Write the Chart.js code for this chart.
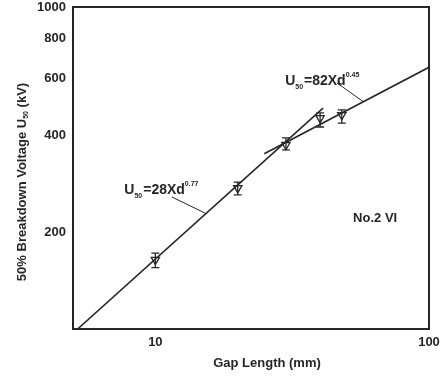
<!DOCTYPE html>
<html><head><meta charset="utf-8">
<script src="https://cdn.jsdelivr.net/npm/chart.js@4/dist/chart.umd.min.js"></script>
<style>html,body{margin:0;padding:0;background:#fff}#wrap{width:441px;height:378px;position:relative}</style>
</head><body><div id="wrap"><canvas id="c" width="441" height="378"></canvas></div>
<script>
// ---- data ----
const gapLength   = [10, 20, 30, 40, 48];
const voltageMean = [164, 274, 373, 452, 462];
const voltageLow  = [155, 261, 360, 424, 436];
const voltageHigh = [172, 286, 392, 469, 479];
const fit1X = [5.2, 41];   const fit1Y = [100, 485];   // U50 = 28 X d^0.77
const fit2X = [25, 100];   const fit2Y = [350, 650];   // U50 = 82 X d^0.45
const xTicks = [10, 100];
const yTicks = [200, 400, 600, 800, 1000];

const FONT = '"Liberation Sans", Arial, sans-serif';
const INK = '#262626';

function pts(xs, ys){ return xs.map((x,i)=>({x:x, y:ys[i]})); }

function drawRich(ctx, x, y, parts, size){
  let cx = x;
  for (const [t, kind] of parts){
    let s = size, dy = 0;
    if (kind === 'sub'){ s = size*0.5; dy = 4; }
    if (kind === 'sup'){ s = size*0.5; dy = -8; }
    ctx.font = 'bold ' + s + 'px ' + FONT;
    ctx.fillText(t, cx, y + dy);
    cx += ctx.measureText(t).width + (kind ? 1 : 0);
  }
}

const extras = {
  id: 'extras',
  beforeDatasetsDraw(chart){
    const ctx = chart.ctx, xs = chart.scales.x, ys = chart.scales.y;
    ctx.save();
    ctx.strokeStyle = INK; ctx.lineWidth = 1.3;
    gapLength.forEach((d,i)=>{
      const px = xs.getPixelForValue(d);
      const yl = ys.getPixelForValue(voltageLow[i]);
      const yh = ys.getPixelForValue(voltageHigh[i]);
      ctx.beginPath();
      ctx.moveTo(px, yl); ctx.lineTo(px, yh);
      ctx.moveTo(px-4, yl); ctx.lineTo(px+4, yl);
      ctx.moveTo(px-4, yh); ctx.lineTo(px+4, yh);
      ctx.stroke();
    });
    ctx.restore();
  },
  afterDraw(chart){
    const ctx = chart.ctx, a = chart.chartArea, xs = chart.scales.x, ys = chart.scales.y;
    ctx.save();
    // frame
    ctx.strokeStyle = INK; ctx.lineWidth = 2;
    ctx.strokeRect(a.left, a.top, a.right - a.left, a.bottom - a.top);
    // leader lines
    ctx.lineWidth = 1;
    ctx.beginPath();
    ctx.moveTo(xs.getPixelForValue(11.5), ys.getPixelForValue(257));
    ctx.lineTo(xs.getPixelForValue(15.2), ys.getPixelForValue(229));
    ctx.moveTo(xs.getPixelForValue(46.1), ys.getPixelForValue(581));
    ctx.lineTo(xs.getPixelForValue(57.5), ys.getPixelForValue(508));
    ctx.stroke();
    // equation labels
    ctx.fillStyle = INK; ctx.textBaseline = 'alphabetic'; ctx.textAlign = 'left';
    drawRich(ctx, xs.getPixelForValue(7.7), ys.getPixelForValue(262),
      [['U',''],['50','sub'],['=28Xd',''],['0.77','sup']], 14);
    drawRich(ctx, xs.getPixelForValue(29.8), ys.getPixelForValue(573),
      [['U',''],['50','sub'],['=82Xd',''],['0.45','sup']], 14);
    // No.2 VI
    ctx.font = 'bold 13px ' + FONT; ctx.textBaseline = 'middle';
    ctx.fillText('No.2 VI', xs.getPixelForValue(52.8), ys.getPixelForValue(221));
    // axis titles
    ctx.font = 'bold 13px ' + FONT; ctx.textBaseline = 'middle'; ctx.textAlign = 'center';
    ctx.fillText('Gap Length (mm)', 267, 363);
    ctx.translate(22, 182); ctx.rotate(-Math.PI/2);
    const p1 = '50% Breakdown Voltage U', p2 = '50', p3 = ' (kV)';
    ctx.font = 'bold 13px ' + FONT; const w1 = ctx.measureText(p1).width, w3 = ctx.measureText(p3).width;
    ctx.font = 'bold 7px ' + FONT; const w2 = ctx.measureText(p2).width;
    let sx = -(w1 + w2 + w3)/2;
    ctx.textAlign = 'left';
    ctx.font = 'bold 13px ' + FONT; ctx.fillText(p1, sx, 0); sx += w1;
    ctx.font = 'bold 7px ' + FONT; ctx.fillText(p2, sx, 4); sx += w2;
    ctx.font = 'bold 13px ' + FONT; ctx.fillText(p3, sx, 0);
    ctx.restore();
  }
};

new Chart(document.getElementById('c'), {
  type: 'scatter',
  data: {
    datasets: [
      { data: pts(fit1X, fit1Y), showLine: true, borderColor: INK, borderWidth: 1.6, pointRadius: 0, fill: false },
      { data: pts(fit2X, fit2Y), showLine: true, borderColor: INK, borderWidth: 1.6, pointRadius: 0, fill: false },
      { data: pts(gapLength, voltageMean), showLine: false, pointStyle: 'triangle', rotation: 180,
        pointRadius: 4.8, borderColor: INK, borderWidth: 1.3, backgroundColor: 'rgba(255,255,255,0)' }
    ]
  },
  options: {
    responsive: false, devicePixelRatio: 1, animation: false,
    layout: { padding: { left: 0, top: 7, right: 12, bottom: 0 } },
    plugins: { legend: { display: false }, tooltip: { enabled: false } },
    scales: {
      x: {
        type: 'logarithmic', min: 5, max: 100,
        grid: { display: false, drawTicks: false }, border: { display: false },
        afterBuildTicks(s){ s.ticks = xTicks.map(v=>({value:v})); },
        afterFit(s){ s.height = 49; s.paddingLeft = 0; s.paddingRight = 0; },
        ticks: { autoSkip: false, maxRotation: 0, padding: 6, color: INK,
          font: { family: FONT, size: 13, weight: 'bold' }, callback: v => String(v) }
      },
      y: {
        type: 'logarithmic', min: 100, max: 1000,
        grid: { display: false, drawTicks: false }, border: { display: false },
        afterBuildTicks(s){ s.ticks = yTicks.map(v=>({value:v})); },
        afterFit(s){ s.width = 73; s.paddingTop = 0; s.paddingBottom = 0; },
        ticks: { autoSkip: false, padding: 7, color: INK,
          font: { family: FONT, size: 13, weight: 'bold' }, callback: v => String(v) }
      }
    }
  },
  plugins: [extras]
});
</script></body></html>
